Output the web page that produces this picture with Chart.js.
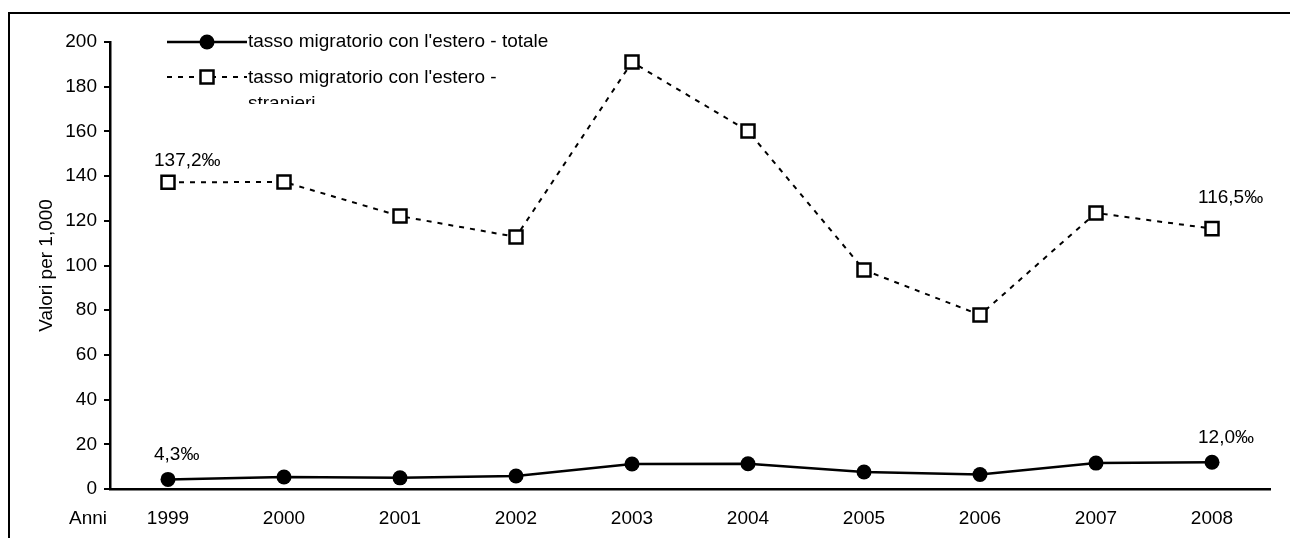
<!DOCTYPE html>
<html>
<head>
<meta charset="utf-8">
<script src="https://cdn.jsdelivr.net/npm/chart.js@4.4.1/dist/chart.umd.min.js"></script>
<style>
  html, body { margin: 0; padding: 0; background: #fff; }
  #wrap { position: relative; width: 1290px; height: 538px; }
</style>
</head>
<body>
<div id="wrap"><canvas id="c" width="1290" height="538"></canvas></div>
<script>
// Anni della serie
const years = ['1999', '2000', '2001', '2002', '2003', '2004', '2005', '2006', '2007', '2008'];
// Tasso migratorio con l'estero, valori per 1.000
const totale = [4.3, 5.4, 5.0, 5.8, 11.2, 11.3, 7.6, 6.5, 11.6, 12.0];
const stranieri = [137.2, 137.4, 122.1, 112.8, 191.0, 160.2, 98.0, 77.9, 123.5, 116.5];
const seriesLabels = ["tasso migratorio con l'estero - totale", "tasso migratorio con l'estero - stranieri"];
const yTicks = [0, 20, 40, 60, 80, 100, 120, 140, 160, 180, 200];

const FONT = '"Liberation Sans", Arial, sans-serif';
const FS = 19;
const fmt = v => v.toFixed(1).replace('.', ',') + '‰';

// Cornice, legenda, etichette dei valori estremi e "Anni"
const decorations = {
  id: 'decorations',
  beforeDraw(chart) {
    const ctx = chart.ctx;
    ctx.save();
    ctx.strokeStyle = '#000';
    ctx.lineWidth = 2;
    ctx.beginPath();
    ctx.moveTo(8, 13); ctx.lineTo(1290, 13);
    ctx.moveTo(9, 12); ctx.lineTo(9, 538);
    ctx.stroke();
    ctx.restore();
  },
  afterDraw(chart) {
    const ctx = chart.ctx;
    ctx.save();
    ctx.fillStyle = '#000';
    ctx.strokeStyle = '#000';
    ctx.font = FS + 'px ' + FONT;
    ctx.textBaseline = 'middle';
    ctx.textAlign = 'left';

    // legenda
    const lx0 = 167, lx1 = 247, mx = 207;
    // totale
    let y = 42;
    ctx.lineWidth = 2.5;
    ctx.setLineDash([]);
    ctx.beginPath(); ctx.moveTo(lx0, y); ctx.lineTo(lx1, y); ctx.stroke();
    ctx.beginPath(); ctx.arc(mx, y, 7.5, 0, Math.PI * 2); ctx.fill();
    ctx.fillText(chart.data.datasets[0].label, 248, y);
    // stranieri
    y = 77;
    ctx.lineWidth = 2;
    ctx.setLineDash([5, 6]);
    ctx.beginPath(); ctx.moveTo(lx0, y); ctx.lineTo(lx1, y); ctx.stroke();
    ctx.setLineDash([]);
    ctx.fillStyle = '#fff';
    ctx.fillRect(mx - 6.5, y - 6.5, 13, 13);
    ctx.lineWidth = 2.5;
    ctx.strokeRect(mx - 6.5, y - 6.5, 13, 13);
    ctx.fillStyle = '#000';
    const words = chart.data.datasets[1].label;
    const cut = words.lastIndexOf(' ');
    ctx.fillText(words.slice(0, cut), 248, y + 1);
    ctx.save();
    ctx.beginPath(); ctx.rect(240, 90, 400, 14); ctx.clip();
    ctx.textBaseline = 'alphabetic';
    ctx.fillText(words.slice(cut + 1), 248, 109);
    ctx.restore();

    // etichette del primo e ultimo valore
    ctx.textBaseline = 'alphabetic';
    const offsets = [[19, 19], [16, 26]];
    chart.data.datasets.forEach((ds, i) => {
      const meta = chart.getDatasetMeta(i);
      [0, ds.data.length - 1].forEach((j, k) => {
        const p = meta.data[j];
        ctx.fillText(fmt(ds.data[j]), p.x - 14, p.y - offsets[i][k]);
      });
    });

    // "Anni"
    ctx.textAlign = 'right';
    ctx.fillText('Anni', 107, 524);
    ctx.restore();
  }
};

new Chart(document.getElementById('c'), {
  type: 'line',
  data: {
    labels: years,
    datasets: [
      {
        label: seriesLabels[0],
        data: totale,
        borderColor: '#000',
        backgroundColor: '#000',
        borderWidth: 2.5,
        pointStyle: 'circle',
        pointRadius: 7.5,
        pointBackgroundColor: '#000',
        pointBorderWidth: 0,
        tension: 0
      },
      {
        label: seriesLabels[1],
        data: stranieri,
        borderColor: '#000',
        backgroundColor: '#fff',
        borderWidth: 2,
        borderDash: [5, 6],
        pointStyle: 'rect',
        pointRadius: 9.2,
        pointBackgroundColor: '#fff',
        pointBorderColor: '#000',
        pointBorderWidth: 2.5,
        tension: 0
      }
    ]
  },
  options: {
    responsive: false,
    animation: false,
    layout: { padding: { left: 0, right: 20, top: 42, bottom: 0 } },
    plugins: { legend: { display: false }, tooltip: { enabled: false } },
    scales: {
      x: {
        offset: true,
        grid: { display: false, drawTicks: false },
        border: { display: true, color: '#000', width: 2.5 },
        ticks: { color: '#000', font: { family: FONT, size: FS }, padding: 18, maxRotation: 0 },
        afterFit(s) { s.height = 49; }
      },
      y: {
        min: 0,
        max: 200,
        afterBuildTicks(s) { s.ticks = yTicks.map(v => ({ value: v })); },
        grid: { drawOnChartArea: false, drawTicks: true, tickLength: 6, color: '#000', lineWidth: 2 },
        border: { display: true, color: '#000', width: 2.5 },
        ticks: { color: '#000', font: { family: FONT, size: FS }, padding: 7 },
        title: { display: true, text: 'Valori per 1,000', color: '#000', font: { family: FONT, size: FS }, padding: { top: 35, bottom: 0 } },
        afterFit(s) { s.width = 110; }
      }
    }
  },
  plugins: [decorations]
});
</script>
</body>
</html>
